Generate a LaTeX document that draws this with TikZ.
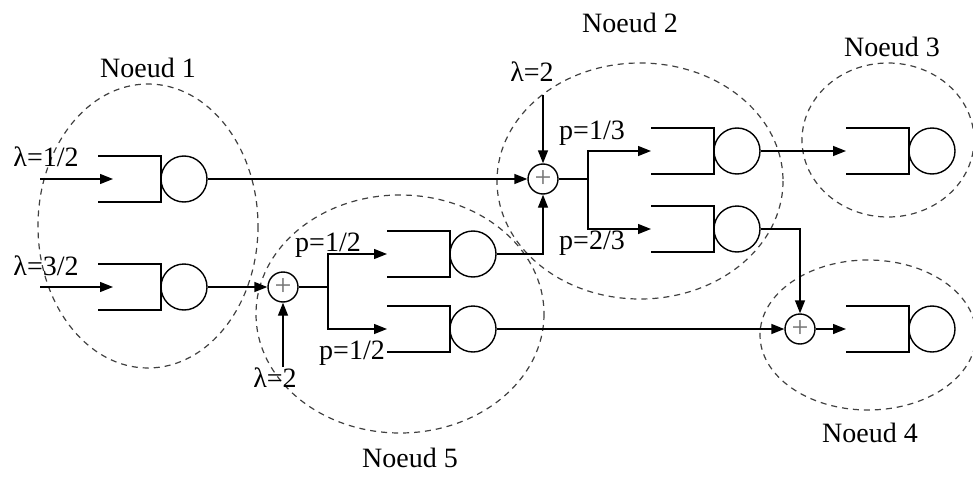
\documentclass[tikz,border=0pt]{standalone}
\usepackage{fontspec}
\setmainfont{Liberation Serif}
\usetikzlibrary{arrows.meta,positioning,calc}

% a queue: buffer + server circle, input point (name)in
\newcommand{\queue}[2]{%
  \node[server] (#1) at (#2) {};
  \draw[buffer] ($(#1.center)+(-86,-23)$) -- ($(#1.center)+(-23,-23)$)
    -- ($(#1.center)+(-23,23)$) -- ($(#1.center)+(-86,23)$);
  \coordinate (#1in) at ($(#1.center)+(-86,0)$);}

\begin{document}
\begin{tikzpicture}[x=0.5pt,y=-0.5pt,
    font=\fontsize{14}{16}\selectfont,
    server/.style={draw,circle,minimum size=23pt,inner sep=0pt,line width=0.7pt},
    buffer/.style={line width=0.7pt},
    adder/.style={draw,circle,minimum size=15pt,inner sep=0pt,line width=0.7pt,
      font=\fontsize{15}{15}\selectfont,text=black!55},
    flow/.style={line width=0.7pt,-{Triangle[length=6.5pt,width=5pt]}},
    zone/.style={draw=black!75,line width=0.6pt,dash pattern=on 3pt off 2.5pt}]
    \useasboundingbox (0,0) rectangle (973,476);
    % dashed zones and their titles
    \draw[zone] (148,226) ellipse [x radius=110,y radius=142];
    \draw[zone] (640,181) ellipse [x radius=143,y radius=118];
    \draw[zone] (888,140) ellipse [x radius=86,y radius=77];
    \draw[zone] (868,335) ellipse [x radius=108,y radius=75];
    \draw[zone] (400,314) ellipse [x radius=144,y radius=119];
    \node (t1) at (148,68) {Noeud 1};
    \node (t2) at (630,23) {Noeud 2};
    \node (t3) at (892,47) {Noeud 3};
    \node (t4) at (870,433) {Noeud 4};
    \node (t5) at (410,458) {Noeud 5};

    % queues
    \queue{q1}{184,179}
    \queue{q2}{184,287}
    \queue{q5a}{473,254}
    \queue{q5b}{473,329}
    \queue{q2a}{737,151}
    \queue{q2b}{737,229}
    \queue{q3}{932,151}
    \queue{q4}{932,329}

    % adders
    \node[adder] (s1) at (283,287) {+};
    \node[adder] (s2) at (543,179) {+};
    \node[adder] (s3) at (800,329) {+};

    % external arrivals
    \coordinate (e1) at (40,179);
    \coordinate (e2) at (40,287);
    \coordinate (e5) at (283,367);
    \coordinate (e3) at (543,95);
    \draw[flow] (e1) -- ($(q1in)+(15,0)$);
    \draw[flow] (e2) -- ($(q2in)+(15,0)$);
    \draw[flow] (e5) -- (s1.south);
    \draw[flow] (e3) -- (s2.north);
    \node (l1) at (46,157) {λ=1/2};
    \node (l2) at (46,266) {λ=3/2};
    \node (l5) at (275,378) {λ=2};
    \node (l3) at (532,72) {λ=2};

    % routing
    \draw[flow] (q1.east) -- (s2.west);
    \draw[flow] (q2.east) -- (s1.west);
    \coordinate (d1) at ($(s1.center)+(45,0)$);
    \draw[buffer] (s1.east) -- (d1);
    \draw[flow] (d1) |- (q5ain);
    \draw[flow] (d1) |- (q5bin);
    \draw[flow] (q5a.east) -| (s2.south);
    \draw[flow] (q5b.east) -- (s3.west);
    \coordinate (d2) at ($(s2.center)+(45,0)$);
    \draw[buffer] (s2.east) -- (d2);
    \draw[flow] (d2) |- (q2ain);
    \draw[flow] (d2) |- (q2bin);
    \draw[flow] (q2a.east) -- (q3in);
    \draw[flow] (q2b.east) -| (s3.north);
    \draw[flow] (s3.east) -- (q4in);
    \node (p1) at (328,245) {p=1/2};
    \node (p2) at (352,353) {p=1/2};
    \node (p3) at (592,133) {p=1/3};
    \node (p4) at (592,243) {p=2/3};
\end{tikzpicture}
\end{document}
